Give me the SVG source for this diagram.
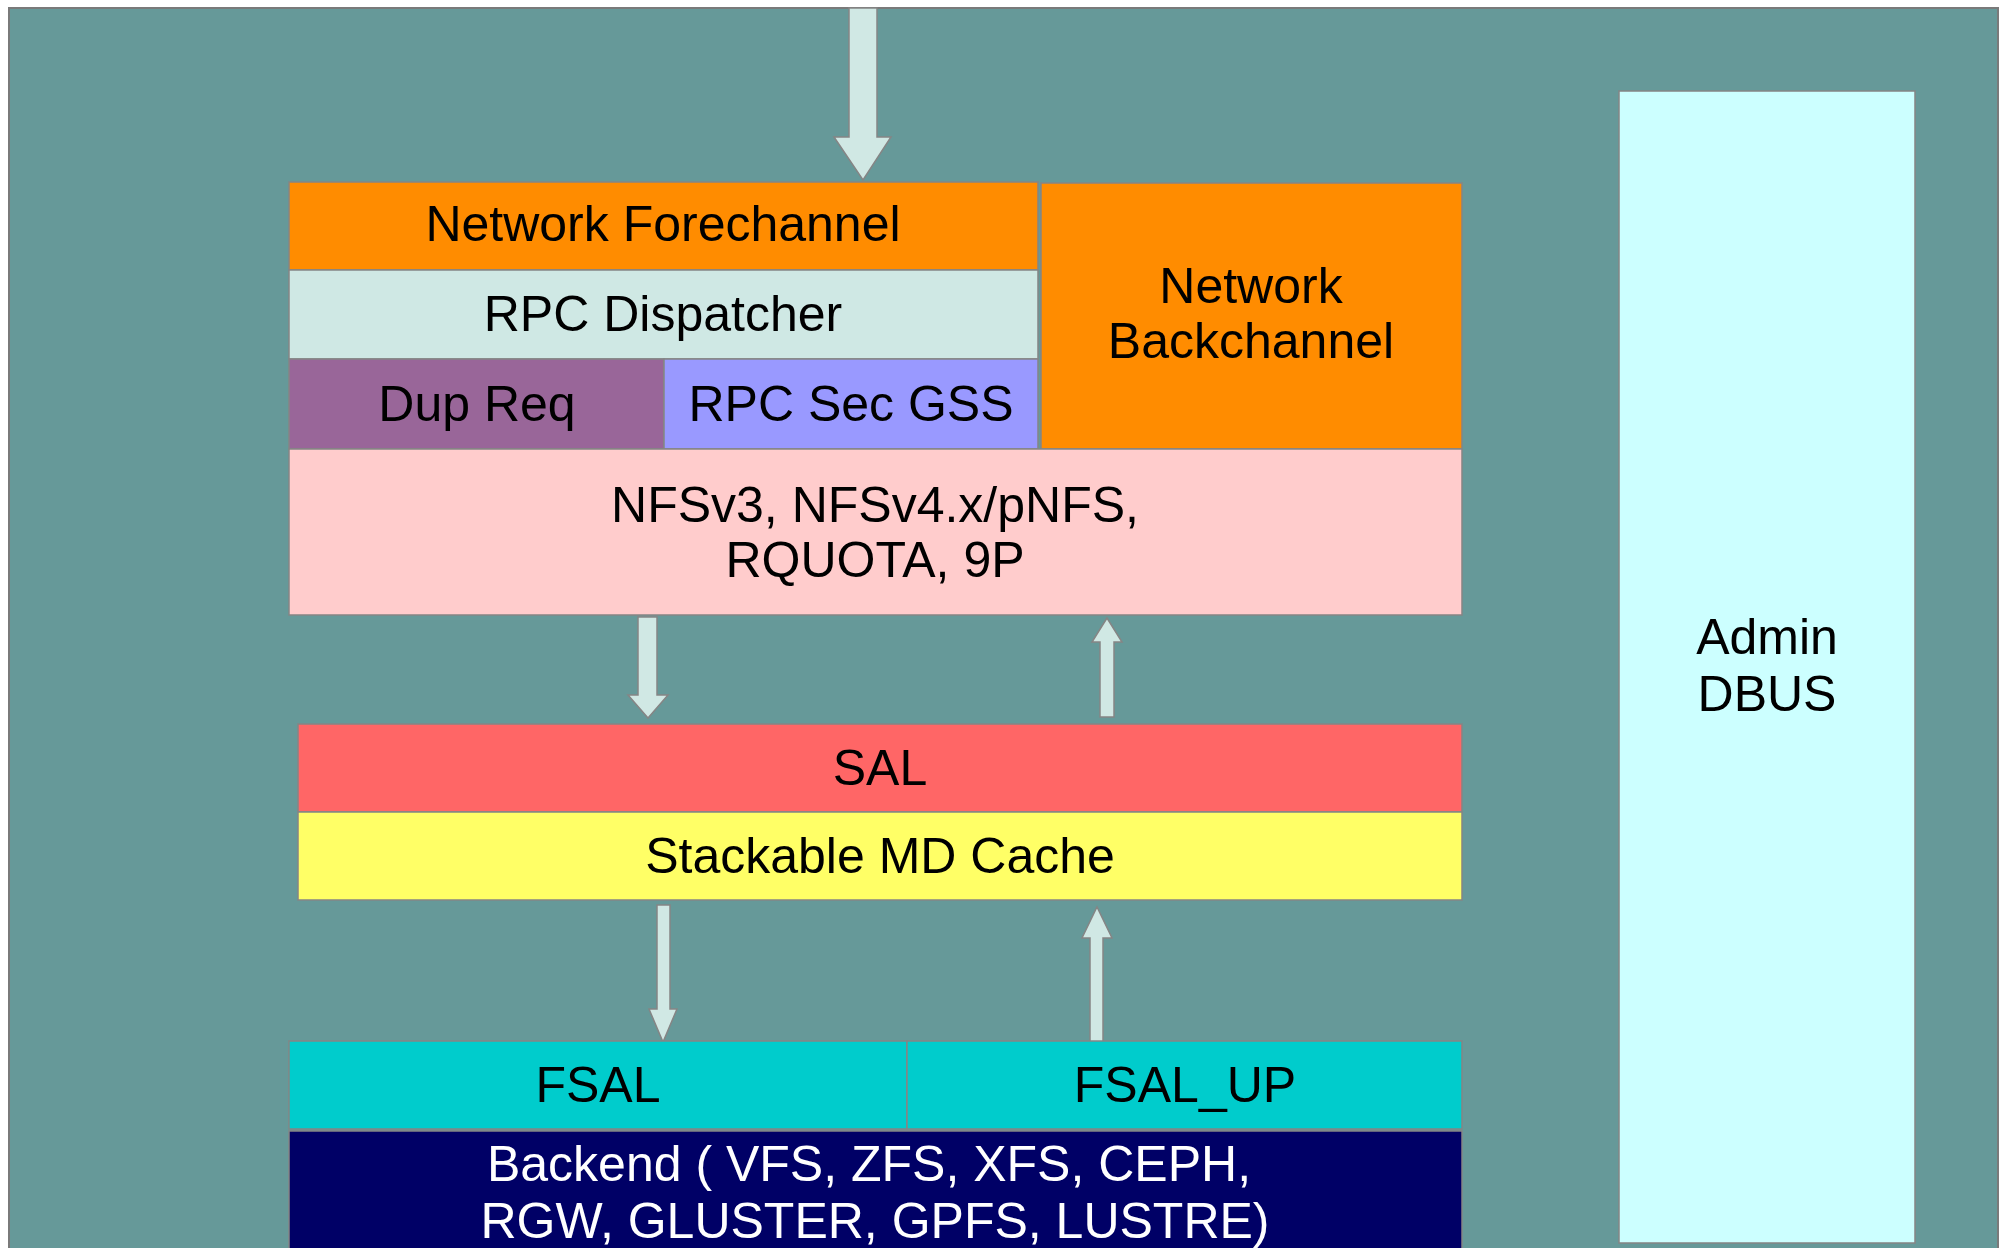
<svg xmlns="http://www.w3.org/2000/svg" width="2005" height="1248" viewBox="0 0 2005 1248">
<style>
.box{stroke:#858585;stroke-width:1.5}
.t{font-family:"Liberation Sans",Arial,sans-serif;font-size:50px;fill:#000;text-anchor:middle}
.w{fill:#fff}
.arr{fill:#d0e8e4;stroke:#858585;stroke-width:1.5;stroke-linejoin:miter}
</style>
<rect x="0" y="0" width="2005" height="1248" fill="#ffffff"/>
<rect id="background" x="9" y="8" width="1989" height="1250" fill="#669999" stroke="#7a7a7a" stroke-width="2"/>
<g id="connectors">
<polygon class="arr" points="849,8 877,8 877,137 891,137 863,180 834,137 849,137"/>
<polygon class="arr" points="638,617 657,617 657,695 668,695 648,718 628,695 638,695"/>
<polygon class="arr" points="1100,717 1114,717 1114,642 1122,642 1107,618 1092,642 1100,642"/>
<polygon class="arr" points="657,905 670,905 670,1009 677,1009 663,1042 649,1009 657,1009"/>
<polygon class="arr" points="1090,1042 1103,1042 1103,938 1112,938 1097,907 1082,938 1090,938"/>
</g>
<g id="network-forechannel"><rect class="box" x="289" y="182" width="749" height="88" fill="#ff8c00"/><text class="t" x="663" y="241">Network Forechannel</text></g>
<g id="rpc-dispatcher"><rect class="box" x="289" y="270" width="749" height="89" fill="#cfe8e4"/><text class="t" x="663" y="331">RPC Dispatcher</text></g>
<g id="dup-req"><rect class="box" x="289" y="359" width="375" height="90" fill="#996699"/><text class="t" x="477" y="421">Dup Req</text></g>
<g id="rpc-sec-gss"><rect class="box" x="664" y="359" width="374" height="90" fill="#9999ff"/><text class="t" x="851" y="421">RPC Sec GSS</text></g>
<g id="network-backchannel"><rect class="box" x="1041" y="183" width="421" height="266" fill="#ff8c00"/><text class="t" x="1251" y="303">Network</text><text class="t" x="1251" y="358">Backchannel</text></g>
<g id="protocols"><rect class="box" x="289" y="449" width="1173" height="166" fill="#ffcccc"/><text class="t" x="875" y="522">NFSv3, NFSv4.x/pNFS,</text><text class="t" x="875" y="577">RQUOTA, 9P</text></g>
<g id="sal"><rect class="box" x="298" y="724" width="1164" height="88" fill="#ff6666"/><text class="t" x="880" y="785">SAL</text></g>
<g id="md-cache"><rect class="box" x="298" y="812" width="1164" height="88" fill="#ffff66"/><text class="t" x="880" y="873">Stackable MD Cache</text></g>
<g id="fsal"><rect class="box" x="289" y="1041" width="618" height="88" fill="#00cccc"/><text class="t" x="598" y="1102">FSAL</text></g>
<g id="fsal-up"><rect class="box" x="907" y="1041" width="555" height="88" fill="#00cccc"/><text class="t" x="1185" y="1102">FSAL_UP</text></g>
<g id="backend"><rect class="box" x="289" y="1131" width="1173" height="130" fill="#000066"/><text class="t w" x="869" y="1181">Backend ( VFS, ZFS, XFS, CEPH,</text><text class="t w" x="875" y="1238">RGW, GLUSTER, GPFS, LUSTRE)</text></g>
<g id="admin-dbus"><rect class="box" x="1619" y="91" width="296" height="1152" fill="#ccffff"/><text class="t" x="1767" y="654">Admin</text><text class="t" x="1767" y="711">DBUS</text></g>
</svg>
